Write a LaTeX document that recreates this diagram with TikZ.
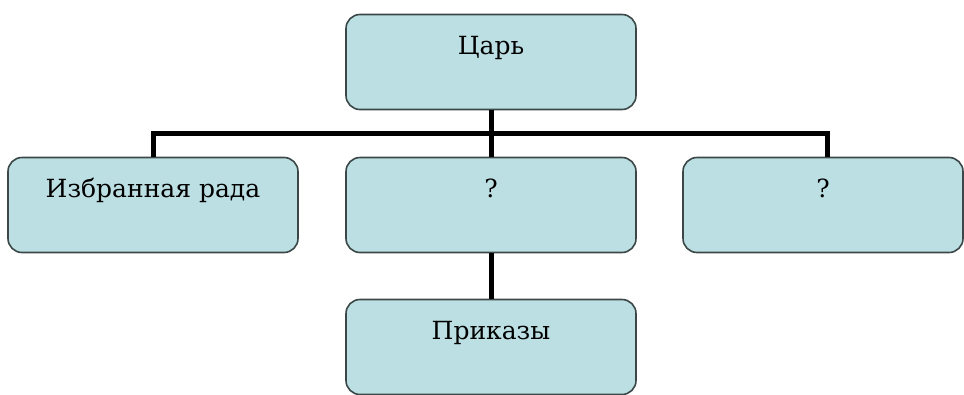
\documentclass[tikz,border=0pt]{standalone}
\usepackage{fontspec}
\setmainfont{DejaVu Serif}
\definecolor{boxfill}{RGB}{188,223,227}
\definecolor{boxline}{RGB}{60,72,72}
\tikzset{
  unit/.style={draw=boxline, line width=1.6pt, fill=boxfill, rounded corners=14pt,
    minimum width=290pt, minimum height=95pt, inner sep=0pt,
    text height=17pt, text depth=33pt, font=\fontsize{25}{30}\selectfont},
  link/.style={line width=5pt, black}
}
\begin{document}
\begin{tikzpicture}[x=1pt,y=1pt]
\useasboundingbox[fill=white] (0,0) rectangle (964,-394);
\node[unit] (tsar) at (491,-62) {Царь};
\node[unit] (rada) at (153,-205) {Избранная рада};
\node[unit] (mid) at (491,-205) {?};
\node[unit, minimum width=280pt] (right) at (823,-205) {?};
\node[unit] (prikazy) at (491,-347) {Приказы};
\coordinate (fork) at (491,-133);
\path[draw,link] (tsar) -- (mid);
\path[draw,link] (rada.north) |- (fork) -| ([xshift=4pt]right.north);
\path[draw,link] (mid) -- (prikazy);
\end{tikzpicture}
\end{document}
